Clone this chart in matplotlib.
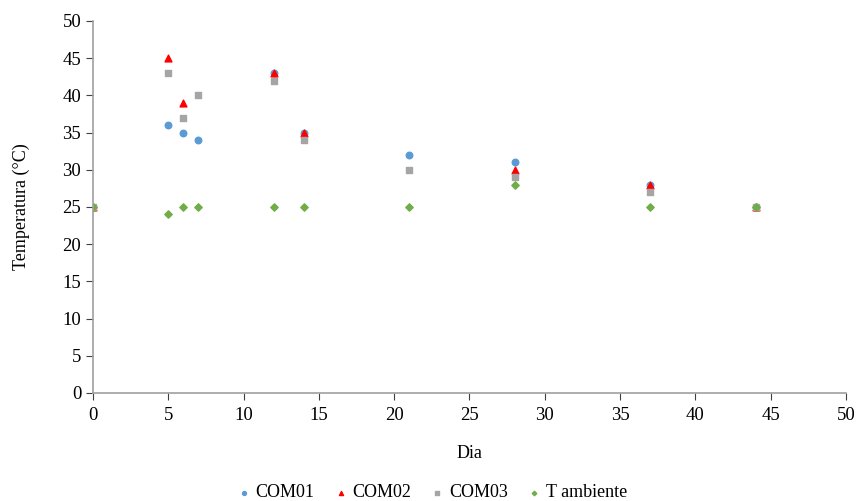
import matplotlib.pyplot as plt

plt.rcParams['font.family'] = ['Liberation Serif', 'DejaVu Serif']

dias = [0, 5, 6, 7, 12, 14, 21, 28, 37, 44]
com01 = [25, 36, 35, 34, 43, 35, 32, 31, 28, 25]
com03 = [25, 43, 37, 40, 42, 34, 30, 29, 27, 25]
t_amb = [25, 24, 25, 25, 25, 25, 25, 28, 25, 25]

# COM02 has no readings on days 7 and 21
dias02 = [0, 5, 6, 12, 14, 28, 37, 44]
com02 = [25, 45, 39, 43, 35, 30, 28, 25]

fig = plt.figure(figsize=(8.56, 5.01), dpi=100)
ax = fig.add_axes([0.1086, 0.2156, 0.8797, 0.7425])

ax.scatter(dias, com01, marker='o', s=22, color='#5b9bd5', label='COM01', zorder=3)
ax.scatter(dias02, com02, marker='^', s=24, color='#ff0000', label='COM02', zorder=3)
ax.scatter(dias, com03, marker='s', s=24, color='#a5a5a5', label='COM03', zorder=3)
ax.scatter(dias, t_amb, marker='D', s=14, color='#70ad47', label='T ambiente', zorder=3)

ax.set_xlim(0, 50)
ax.set_ylim(0, 50)
ax.set_xticks(range(0, 51, 5))
ax.set_yticks(range(0, 51, 5))
ax.set_xlabel('Dia', fontsize=13, labelpad=15)
ax.set_ylabel('Temperatura (°C)', fontsize=13, labelpad=23)
ax.tick_params(axis='both', labelsize=13.5, direction='out', length=5, color='#404040')
ax.tick_params(axis='x', pad=5)

for side in ['top', 'right']:
    ax.spines[side].set_visible(False)
for side in ['left', 'bottom']:
    ax.spines[side].set_color('#a0a0a0')
    ax.spines[side].set_linewidth(1.2)
    ax.spines[side].set_zorder(4)

fig.legend(loc='lower center', bbox_to_anchor=(0.505, -0.033), ncol=4, frameon=False,
           fontsize=13, handlelength=0.7, handletextpad=0.3, columnspacing=1.1,
           markerscale=0.6)

fig.savefig('out.png', dpi=100)
